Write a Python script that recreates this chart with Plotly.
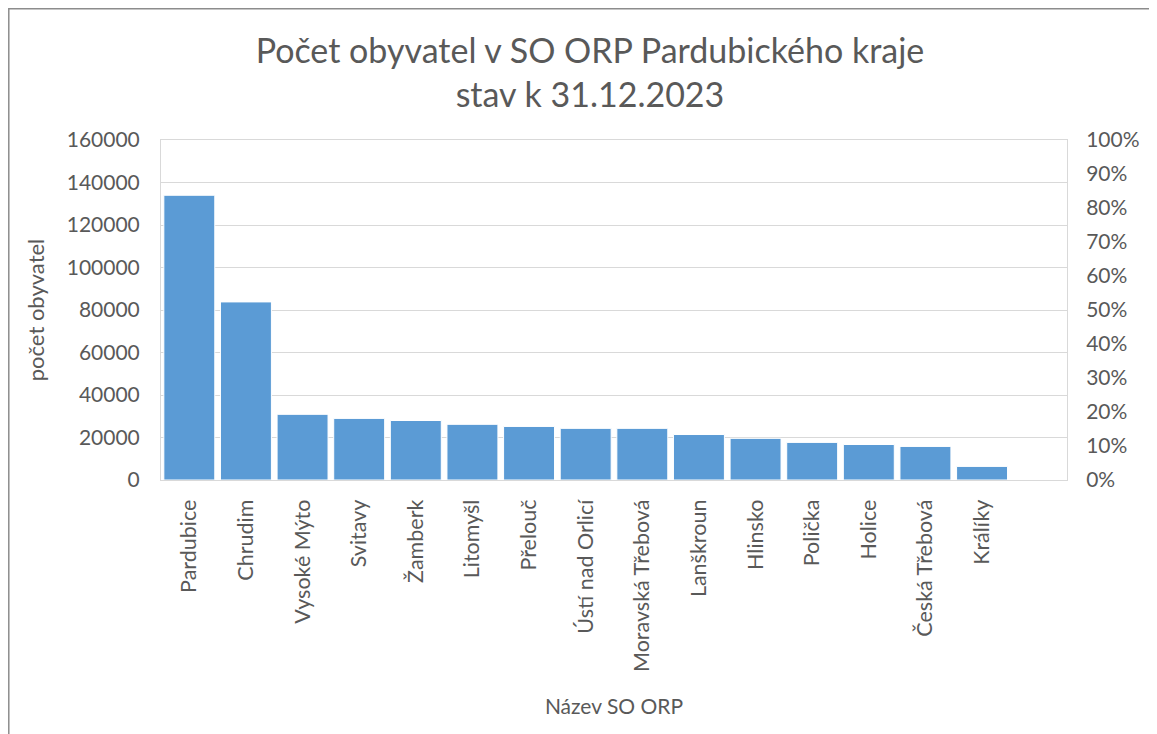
import plotly.graph_objects as go

# počet obyvatel v SO ORP, stav k 31.12.2023
orp_names = ['Pardubice', 'Chrudim', 'Vysoké Mýto', 'Svitavy', 'Žamberk', 'Litomyšl',
             'Přelouč', 'Ústí nad Orlicí', 'Moravská Třebová', 'Lanškroun', 'Hlinsko',
             'Polička', 'Holice', 'Česká Třebová', 'Králíky']
population = [134000, 83800, 30900, 29000, 28000, 26200, 25200, 24300, 24300,
              21400, 19600, 17700, 16700, 15800, 6400]

BAR_COLOUR = '#5B9BD5'
TEXT_COLOUR = '#595959'
GRID_COLOUR = '#D9D9D9'
FONT = 'Lato'

fig = go.Figure()
fig.add_trace(go.Bar(x=orp_names, y=population,
                     marker=dict(color=BAR_COLOUR, line=dict(color='white', width=1)),
                     showlegend=False))
# neviditelná stopa jen kvůli pravé ose
fig.add_trace(go.Scatter(x=orp_names, y=[None] * len(orp_names), yaxis='y2',
                         mode='lines', showlegend=False, hoverinfo='skip'))

fig.update_layout(
    width=1157, height=734,
    margin=dict(l=153, r=98, t=132, b=262),
    paper_bgcolor='white', plot_bgcolor='white',
    bargap=0.1,
    font=dict(family=FONT, color=TEXT_COLOUR, size=21),
    title=dict(text='Počet obyvatel v SO ORP Pardubického kraje<br>stav k 31.12.2023',
               x=0.503, xanchor='center', y=0.925, yanchor='top',
               font=dict(family=FONT, size=34, color=TEXT_COLOUR)),
    xaxis=dict(range=[-0.5, 15.5], tickangle=-90, showgrid=False,
               tickfont=dict(size=21.5), ticklabelstandoff=10,
               showline=True, linecolor=GRID_COLOUR, mirror=True, ticks='',
               title=dict(text='Název SO ORP', font=dict(size=21), standoff=28)),
    yaxis=dict(range=[0, 160000], dtick=20000, tickformat='d', gridcolor=GRID_COLOUR,
               ticklabelstandoff=16,
               showline=True, linecolor=GRID_COLOUR, zeroline=False, ticks='',
               title=dict(text='počet obyvatel', font=dict(size=22), standoff=16)),
    yaxis2=dict(range=[0, 1], dtick=0.1, tickformat='.0%', overlaying='y', side='right',
                showgrid=False, zeroline=False, showline=True, linecolor=GRID_COLOUR,
                ticks='', ticklabelstandoff=14),
    shapes=[dict(type='rect', xref='paper', yref='paper',
                 x0=-0.168, x1=1.2, y0=-0.8, y1=1.386,
                 line=dict(color='#8C8C8C', width=1.5))],
)

fig.write_html('out.html')
